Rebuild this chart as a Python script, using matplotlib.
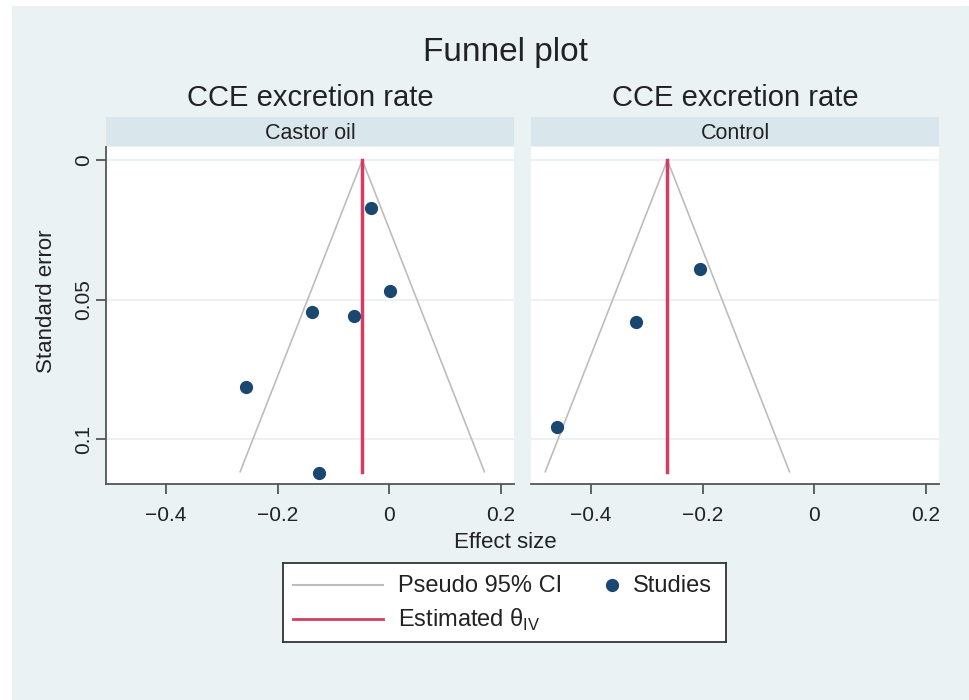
import matplotlib
matplotlib.use("Agg")
import matplotlib.pyplot as plt
from matplotlib.patches import Rectangle
import numpy as np

plt.rcParams['font.family'] = ['Liberation Sans', 'DejaVu Sans']
plt.rcParams['axes.unicode_minus'] = True

# ---- data ----
panels = ["Castor oil", "Control"]
castor_es = [-0.033, 0.001, -0.138, -0.063, -0.257, -0.125]
castor_se = [0.017, 0.047, 0.0546, 0.056, 0.0815, 0.112]
control_es = [-0.205, -0.320, -0.461]
control_se = [0.039, 0.058, 0.0956]
theta_iv = [-0.048, -0.263]
max_se = 0.1117
x_ticks = [-0.4, -0.2, 0, 0.2]
x_tick_labels = ["\u22120.4", "\u22120.2", "0", "0.2"]
y_ticks = [0, 0.05, 0.1]
y_tick_labels = ["0", "0.05", "0.1"]

BG = '#eaf2f3'
STRIP = '#d9e6eb'
NAVY = '#1a476f'
RED = '#d43d63'
GRAY = '#bdbdbd'
TXT = '#222222'
SPINE = '#555555'

W, H = 970, 700
fig = plt.figure(figsize=(W / 100, H / 100), dpi=100, facecolor='white')
fig.patches.append(Rectangle((12 / W, 0), 1 - 12 / W, 1 - 6 / H, transform=fig.transFigure,
                             facecolor=BG, edgecolor='none', zorder=-10))

def px(x0, y0, x1, y1):
    return [x0 / W, 1 - y1 / H, (x1 - x0) / W, (y1 - y0) / H]

series = [(castor_es, castor_se), (control_es, control_se)]
ax_px = [(106, 147, 514, 484), (531, 147, 939, 484)]

for i, (name, (es, se)) in enumerate(zip(panels, series)):
    x0, y0, x1, y1 = ax_px[i]
    ax = fig.add_axes(px(x0, y0, x1, y1))
    ax.set_facecolor('white')
    ax.set_xlim(-0.5075, 0.224)
    ax.set_ylim(0.1161, -0.0047)
    for yv in y_ticks:
        ax.axhline(yv, color=BG, lw=1.5, zorder=1)
    th = theta_iv[i]
    ax.plot([th - 1.96 * max_se, th, th + 1.96 * max_se], [max_se, 0, max_se],
            color=GRAY, lw=1.2, zorder=2)
    ax.plot([th, th], [0, max_se], color=RED, lw=2.5, zorder=3)
    ax.plot(es, se, 'o', color=NAVY, ms=8.5, zorder=4)
    for s in ['top', 'right']:
        ax.spines[s].set_visible(False)
    ax.spines['bottom'].set_color(SPINE)
    ax.spines['bottom'].set_linewidth(1.3)
    ax.set_xticks(x_ticks)
    ax.set_xticklabels(x_tick_labels)
    ax.tick_params(axis='x', length=7, width=1.3, color=SPINE, labelsize=15,
                   labelcolor=TXT, pad=8.5)
    if i == 0:
        ax.spines['left'].set_color(SPINE)
        ax.spines['left'].set_linewidth(1.3)
        ax.set_yticks(y_ticks)
        ax.set_yticklabels(y_tick_labels, rotation=90, va='center')
        ax.tick_params(axis='y', length=7, width=1.3, color=SPINE, labelsize=15,
                       labelcolor=TXT, pad=2.5)
    else:
        ax.spines['left'].set_visible(False)
        ax.set_yticks([])
    # strip
    sax = fig.add_axes(px(x0, 117, x1, 146))
    sax.set_facecolor(STRIP)
    sax.set_xticks([]); sax.set_yticks([])
    for s in sax.spines.values():
        s.set_visible(False)
    sax.text(0.5, 0.44, name, ha='center', va='center', fontsize=15.5, color=TXT,
             transform=sax.transAxes)
    fig.text((x0 + x1) / 2 / W, 1 - 98 / H, "CCE excretion rate", ha='center', va='center',
             fontsize=21, color=TXT)

fig.text(505 / W, 1 - 52 / H, "Funnel plot", ha='center', va='center', fontsize=24, color=TXT)
fig.text(505 / W, 1 - 543 / H, "Effect size", ha='center', va='center', fontsize=16, color=TXT)
fig.text(47 / W, 1 - 301 / H, "Standard error", ha='center', va='center', fontsize=16,
         color=TXT, rotation=90)

# ---- legend (manual box) ----
lx0, ly0, lx1, ly1 = 283, 563, 726, 642
lax = fig.add_axes(px(lx0, ly0, lx1, ly1))
lax.set_xlim(lx0, lx1)
lax.set_ylim(ly1, ly0)
lax.set_facecolor('white')
lax.set_xticks([]); lax.set_yticks([])
for s in lax.spines.values():
    s.set_color('#333333'); s.set_linewidth(1.3)
lax.plot([293, 383], [585, 585], color=GRAY, lw=1.5)
lax.plot([293, 383], [619, 619], color=RED, lw=2)
lax.plot([612.5], [585], 'o', color=NAVY, ms=8.5)
lax.text(398, 586, "Pseudo 95% CI", va='center', ha='left', fontsize=17, color=TXT)
lax.text(398, 620, "Estimated θ$_{\\mathregular{IV}}$", va='center', ha='left', fontsize=17, color=TXT)
lax.text(633, 586, "Studies", va='center', ha='left', fontsize=17, color=TXT)

fig.savefig("out.png", dpi=100, facecolor=fig.get_facecolor())
